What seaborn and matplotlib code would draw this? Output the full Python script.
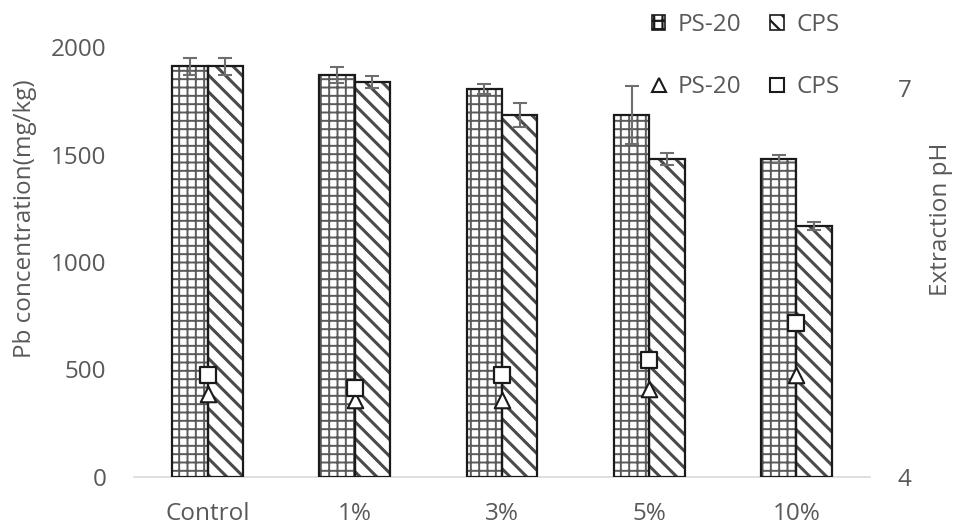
import numpy as np
import pandas as pd
import matplotlib
matplotlib.use("Agg")
import matplotlib.pyplot as plt
from matplotlib.patches import Rectangle, Patch
from matplotlib.lines import Line2D
import seaborn as sns

categories = ["Control", "1%", "3%", "5%", "10%"]
series = ["PS-20", "CPS"]
pb_ps20 = [1910, 1870, 1805, 1685, 1480]
pb_cps = [1910, 1835, 1685, 1480, 1168]
err_ps20 = [40, 37, 25, 135, 18]
err_cps = [38, 28, 55, 27, 18]
ph_ps20 = [4.64, 4.59, 4.59, 4.68, 4.79]
ph_cps = [4.79, 4.69, 4.79, 4.90, 5.19]

sns.set_theme(style="white")
plt.rcParams["font.family"] = ["Open Sans", "DejaVu Sans"]
plt.rcParams["hatch.linewidth"] = 1.6
TXT = "#595959"
FS = 17.5

df = pd.DataFrame({
    "cat": categories * 2,
    "series": [series[0]] * len(categories) + [series[1]] * len(categories),
    "pb": pb_ps20 + pb_cps,
})

fig = plt.figure(figsize=(9.56, 5.30), dpi=100)
ax = fig.add_axes([134 / 956, 1 - 477 / 530, 736 / 956, 430 / 530])

sns.barplot(data=df, x="cat", y="pb", hue="series", hue_order=series,
            order=categories, width=0.48, gap=0, errorbar=None,
            palette=["white", "white"], edgecolor="#555555", linewidth=0,
            legend=False, ax=ax)

hatches = ["++", "\\\\"]
hatch_cols = ["#5a5a5a", "#4a4a4a"]
errs = [err_ps20, err_cps]
bar_containers = list(ax.containers)[:2]
for i, cont in enumerate(bar_containers):
    xs, hs = [], []
    for bar in cont:
        bar.set_hatch(hatches[i])
        bar.set_edgecolor(hatch_cols[i])
        bar.set_linewidth(0)
        if hasattr(bar, "set_hatch_linewidth"):
            bar.set_hatch_linewidth(1.4 if i == 0 else 2.2)
        ax.add_patch(Rectangle((bar.get_x(), bar.get_y()), bar.get_width(),
                               bar.get_height(), fill=False,
                               edgecolor="#1a1a1a", linewidth=1.6, zorder=3))
        xs.append(bar.get_x() + bar.get_width() / 2)
        hs.append(bar.get_height())
    ax.errorbar(xs, hs, yerr=errs[i], fmt="none", ecolor="#6e6e6e",
                elinewidth=1.5, capsize=4.7, capthick=1.5, zorder=4)

ax.set_ylim(0, 2000)
ax.set_xlim(-0.5, len(categories) - 0.5)
ax.set_yticks([0, 500, 1000, 1500, 2000])
ax.tick_params(axis="both", length=0, labelsize=FS, colors=TXT)
ax.tick_params(axis="y", pad=20)
ax.tick_params(axis="x", pad=18)
ax.set_xlabel("")
ax.set_ylabel("Pb concentration(mg/kg)", fontsize=FS, color=TXT)
ax.yaxis.set_label_coords(-0.132, 0.60)
for s in ["top", "right", "left"]:
    ax.spines[s].set_visible(False)
ax.spines["bottom"].set_color("#d9d9d9")
ax.spines["bottom"].set_linewidth(1.2)

ax2 = ax.twinx()
xpos = np.arange(len(categories))
sns.scatterplot(x=xpos, y=ph_ps20, marker="^", s=125, color="white",
                edgecolor="#1a1a1a", linewidth=1.5, ax=ax2, zorder=5)
sns.scatterplot(x=xpos, y=ph_cps, marker="s", s=140, color="white",
                edgecolor="#1a1a1a", linewidth=1.6, ax=ax2, zorder=6)
ax2.set_ylim(4, 4 + 3 * 430 / 389)
ax2.set_yticks([4, 7])
ax2.tick_params(axis="y", length=0, labelsize=FS, colors=TXT, pad=20)
ax2.set_ylabel("Extraction pH", fontsize=FS, color=TXT)
ax2.yaxis.set_label_coords(1.080, 0.60)
for s in ["top", "right", "left", "bottom"]:
    ax2.spines[s].set_visible(False)

handles = [
    Patch(facecolor="white", edgecolor="#1a1a1a", hatch="++", linewidth=1.2),
    Line2D([], [], marker="^", linestyle="none", markersize=10,
           markerfacecolor="white", markeredgecolor="#1a1a1a", markeredgewidth=1.5),
    Patch(facecolor="white", edgecolor="#1a1a1a", hatch="\\\\", linewidth=1.2),
    Line2D([], [], marker="s", linestyle="none", markersize=10,
           markerfacecolor="white", markeredgecolor="#1a1a1a", markeredgewidth=1.5),
]
labels = ["PS-20", "PS-20", "CPS", "CPS"]
leg = fig.legend(handles, labels, ncol=2, loc="upper left",
                 bbox_to_anchor=(630 / 956, 1 + 9 / 530), frameon=False,
                 fontsize=FS, labelcolor=TXT, handlelength=0.56,
                 handleheight=0.56, handletextpad=0.5, columnspacing=1.2,
                 labelspacing=1.55)

fig.savefig("out.png", dpi=100)
